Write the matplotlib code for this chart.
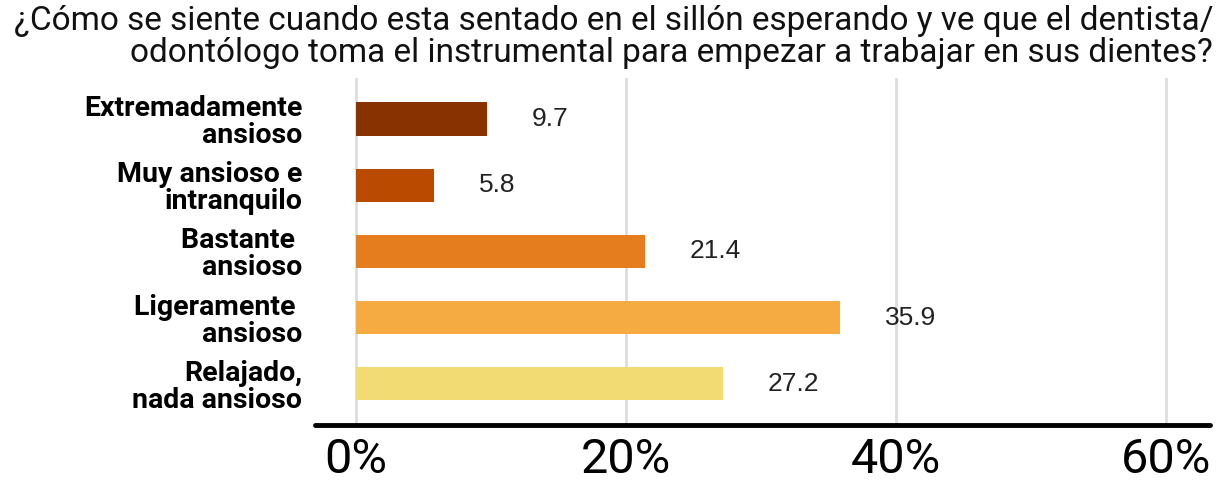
import matplotlib.pyplot as plt

# Survey answers (percent of respondents)
categories = ['Extremadamente\nansioso', 'Muy ansioso e\nintranquilo', 'Bastante \nansioso',
              'Ligeramente \nansioso', 'Relajado,\nnada ansioso']
values = [9.7, 5.8, 21.4, 35.9, 27.2]
colors = ['#873200', '#BA4A00', '#E57C1E', '#F5AB42', '#F2DB72']
xticks = [0, 20, 40, 60]
xtick_labels = ['0%', '20%', '40%', '60%']

title = ('¿Cómo se siente cuando esta sentado en el sillón esperando y ve que el dentista/\n'
         'odontólogo toma el instrumental para empezar a trabajar en sus dientes?')

plt.rcParams['font.family'] = ['Roboto', 'DejaVu Sans']

fig = plt.figure(figsize=(12.25, 4.84), dpi=100)
ax = fig.add_axes([0.257, 0.122, 0.731, 0.717])

y = list(range(len(categories)))
ax.barh(y, values, height=0.5, color=colors, zorder=2)

for yi, v in zip(y, values):
    ax.text(v + 3.3, yi, f'{v}', va='center', ha='left', fontsize=19,
            family='Liberation Sans', color='#222222')

ax.set_xlim(-3.04, 63.3)
ax.set_ylim(4.62, -0.62)

ax.set_yticks(y)
ax.set_yticklabels(categories, fontsize=20.5, fontweight='bold', ha='right', linespacing=1.0)
ax.set_xticks(xticks)
ax.set_xticklabels(xtick_labels, fontsize=35)
ax.tick_params(axis='both', length=0)
ax.tick_params(axis='y', pad=9)
ax.tick_params(axis='x', pad=9)

ax.grid(axis='x', color='#dddddd', linewidth=2, zorder=0)
for side in ['top', 'right', 'left']:
    ax.spines[side].set_visible(False)
ax.spines['bottom'].set_linewidth(3.5)
ax.spines['bottom'].set_color('black')
ax.spines['bottom'].set_capstyle('round')

fig.text(1213 / 1225, 1 - 5 / 484, title, ha='right', va='top', fontsize=24,
         linespacing=1.0, multialignment='right', color='#111111')

plt.savefig('out.png', dpi=100)
